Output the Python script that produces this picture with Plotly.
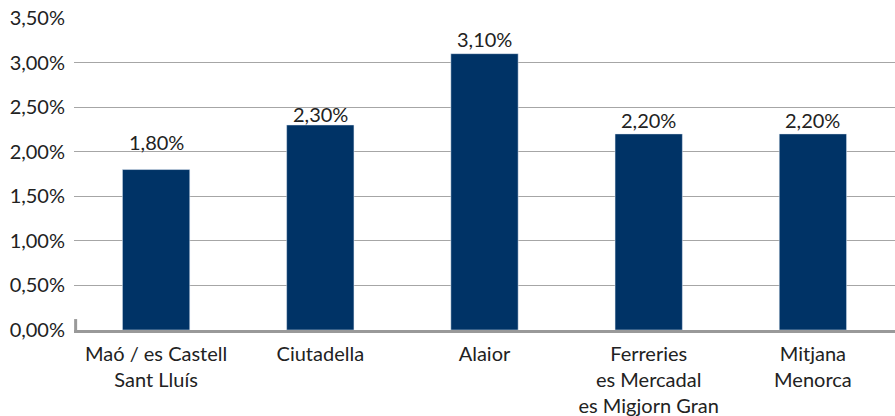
import plotly.graph_objects as go

categories = ["Maó / es Castell<br>Sant Lluís", "Ciutadella", "Alaior",
              "Ferreries<br>es Mercadal<br>es Migjorn Gran", "Mitjana<br>Menorca"]
values = [1.80, 2.30, 3.10, 2.20, 2.20]
tick_vals = [0, 0.5, 1.0, 1.5, 2.0, 2.5, 3.0, 3.5]
tick_text = [f"{v:.2f}%".replace(".", ",") for v in tick_vals]
# the value labels are not all the same height over their bar in the original
label_shift = [14, -3, 1, 0, 0]

FONT = "Lato, Open Sans, sans-serif"

fig = go.Figure()
fig.add_trace(go.Bar(
    x=categories, y=values,
    marker_color="#003366",
    width=0.41,
))

for cat, val, dy in zip(categories, values, label_shift):
    fig.add_annotation(
        x=cat, y=val, text=f"{val:.2f}%".replace(".", ","),
        showarrow=False, yanchor="bottom", yshift=dy,
        font=dict(size=20, color="#222222"),
    )

fig.update_layout(
    width=895, height=416,
    margin=dict(l=74, r=0, t=18, b=86),
    paper_bgcolor="white",
    plot_bgcolor="white",
    showlegend=False,
    font=dict(family=FONT, size=20, color="#222222"),
    xaxis=dict(
        showgrid=False, automargin=False,
        showline=True, linecolor="#999999", linewidth=3,
        ticks="", tickfont=dict(size=20), ticklabelstandoff=4,
    ),
    yaxis=dict(
        range=[0, 3.5], tickvals=tick_vals, ticktext=tick_text,
        automargin=False,
        showgrid=True, gridcolor="#a6a6a6", gridwidth=1,
        zeroline=False, showline=False,
        ticks="outside", ticklen=4, tickcolor="white",
        tickfont=dict(size=20),
    ),
)

# short stub at the left end of the baseline
fig.add_shape(type="line", xref="paper", yref="paper",
              x0=0.002, x1=0.002, y0=0, y1=0.035,
              line=dict(color="#999999", width=3))

# the page body has a default margin; drop it so the figure sits at 0,0
fig.write_html("out.html", config={"displayModeBar": False},
               post_script="document.body.style.margin='0';")
